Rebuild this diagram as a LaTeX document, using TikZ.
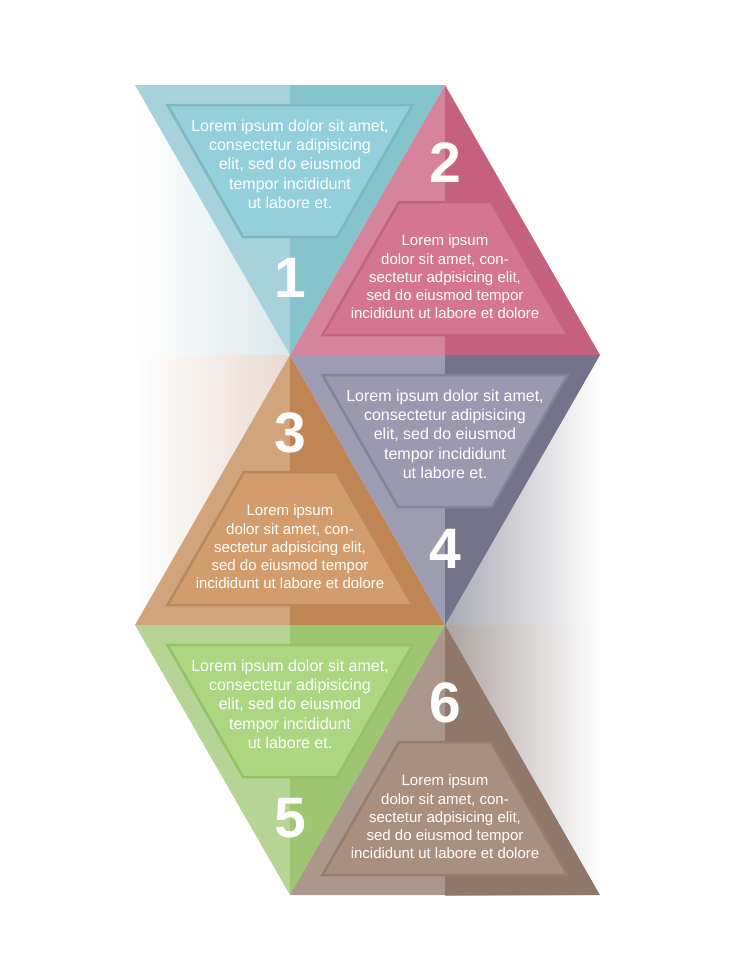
\documentclass[tikz,border=0pt]{standalone}
\usepackage{fontspec}
\setmainfont{Liberation Sans}
\usetikzlibrary{calc}

\definecolor{tealL}{HTML}{A6D3DB}
\definecolor{tealR}{HTML}{85C3CD}
\definecolor{tealIn}{HTML}{93D0DB}
\definecolor{tealEdge}{HTML}{7DB8C2}
\definecolor{pinkL}{HTML}{D6849C}
\definecolor{pinkR}{HTML}{C5607F}
\definecolor{pinkIn}{HTML}{D47592}
\definecolor{pinkEdge}{HTML}{BF6580}
\definecolor{tanL}{HTML}{D2A47B}
\definecolor{tanR}{HTML}{C08555}
\definecolor{tanIn}{HTML}{D29C6C}
\definecolor{tanEdge}{HTML}{B9895E}
\definecolor{greyL}{HTML}{9E9CB0}
\definecolor{greyR}{HTML}{75738A}
\definecolor{greyIn}{HTML}{9B99B0}
\definecolor{greyEdge}{HTML}{85839A}
\definecolor{greenL}{HTML}{B6D594}
\definecolor{greenR}{HTML}{9EC572}
\definecolor{greenIn}{HTML}{ADD680}
\definecolor{greenEdge}{HTML}{96C06A}
\definecolor{brownL}{HTML}{AB978C}
\definecolor{brownR}{HTML}{8F786A}
\definecolor{brownIn}{HTML}{A98F80}
\definecolor{brownEdge}{HTML}{957D6F}
\definecolor{shadeA}{HTML}{DCE7EA}
\definecolor{shadeC}{HTML}{E9DAD0}
\definecolor{shadeD}{HTML}{A9A9B2}
\definecolor{shadeF}{HTML}{ABA39F}

\tikzset{
  lorem/.style={text=white, align=center, font=\fontsize{16}{19.3}\selectfont},
  loremup/.style={text=white, align=center, font=\fontsize{15}{18.3}\selectfont},
  num/.style={text=white, font=\fontsize{57}{57}\selectfont\bfseries},
  inner/.style={line width=2.5pt, line join=miter},
}

\begin{document}
\begin{tikzpicture}[x=1pt,y=-1pt]
  \useasboundingbox (0,0) rectangle (735,980);
  \fill[white] (0,0) rectangle (735,980);

  % Shadows
  \shade[left color=white, right color=shadeA] (135,85) rectangle (290,355);
  \shade[left color=white, right color=shadeC] (135,355) rectangle (290,625);
  \shade[left color=shadeD, right color=white] (445,355) rectangle (600,625);
  \shade[left color=shadeF, right color=white] (445,625) rectangle (600,895);

  % Triangle 1 (teal, pointing down)
  \fill[tealL] (135,85) -- (290,85) -- (290,355) -- cycle;
  \fill[tealR] (290,85) -- (445,85) -- (290,355) -- cycle;
  \filldraw[inner, fill=tealIn, draw=tealEdge] (167.5,105) -- (412.5,105) -- (337,237) -- (243,237) -- cycle;
  \node[lorem] (t1) at (290,164) {Lorem ipsum dolor sit amet,\\consectetur adipisicing\\elit, sed do eiusmod\\tempor incididunt\\ut labore et.};
  \node[num] (n1) at (290,278) {1};

  % Triangle 2 (pink, pointing up)
  \fill[pinkL] (445,85) -- (445,355) -- (290,355) -- cycle;
  \fill[pinkR] (445,85) -- (600,355) -- (445,355) -- cycle;
  \filldraw[inner, fill=pinkIn, draw=pinkEdge] (399,202) -- (491,202) -- (567.5,335) -- (322.5,335) -- cycle;
  \node[loremup] (t2) at (445,277) {Lorem ipsum\\dolor sit amet, con-\\sectetur adpisicing elit,\\sed do eiusmod tempor\\incididunt ut labore et dolore};
  \node[num] (n2) at (445,163) {2};

  % Triangle 3 (tan, pointing up)
  \fill[tanL] (290,355) -- (290,625) -- (135,625) -- cycle;
  \fill[tanR] (290,355) -- (445,625) -- (290,625) -- cycle;
  \filldraw[inner, fill=tanIn, draw=tanEdge] (244,472) -- (336,472) -- (412.5,605) -- (167.5,605) -- cycle;
  \node[loremup] (t3) at (290,547) {Lorem ipsum\\dolor sit amet, con-\\sectetur adpisicing elit,\\sed do eiusmod tempor\\incididunt ut labore et dolore};
  \node[num] (n3) at (290,433) {3};

  % Triangle 4 (grey, pointing down)
  \fill[greyL] (290,355) -- (445,355) -- (445,625) -- cycle;
  \fill[greyR] (445,355) -- (600,355) -- (445,625) -- cycle;
  \filldraw[inner, fill=greyIn, draw=greyEdge] (322.5,375) -- (567.5,375) -- (492,507) -- (398,507) -- cycle;
  \node[lorem] (t4) at (445,434) {Lorem ipsum dolor sit amet,\\consectetur adipisicing\\elit, sed do eiusmod\\tempor incididunt\\ut labore et.};
  \node[num] (n4) at (445,549) {4};

  % Triangle 5 (green, pointing down)
  \fill[greenL] (135,625) -- (290,625) -- (290,895) -- cycle;
  \fill[greenR] (290,625) -- (445,625) -- (290,895) -- cycle;
  \filldraw[inner, fill=greenIn, draw=greenEdge] (167.5,645) -- (412.5,645) -- (337,777) -- (243,777) -- cycle;
  \node[lorem] (t5) at (290,704) {Lorem ipsum dolor sit amet,\\consectetur adipisicing\\elit, sed do eiusmod\\tempor incididunt\\ut labore et.};
  \node[num] (n5) at (290,818) {5};

  % Triangle 6 (brown, pointing up)
  \fill[brownL] (445,625) -- (445,895) -- (290,895) -- cycle;
  \fill[brownR] (445,625) -- (600,895) -- (445,895) -- cycle;
  \filldraw[inner, fill=brownIn, draw=brownEdge] (399,742) -- (491,742) -- (567.5,875) -- (322.5,875) -- cycle;
  \node[loremup] (t6) at (445,817) {Lorem ipsum\\dolor sit amet, con-\\sectetur adpisicing elit,\\sed do eiusmod tempor\\incididunt ut labore et dolore};
  \node[num] (n6) at (445,703) {6};
\end{tikzpicture}
\end{document}
